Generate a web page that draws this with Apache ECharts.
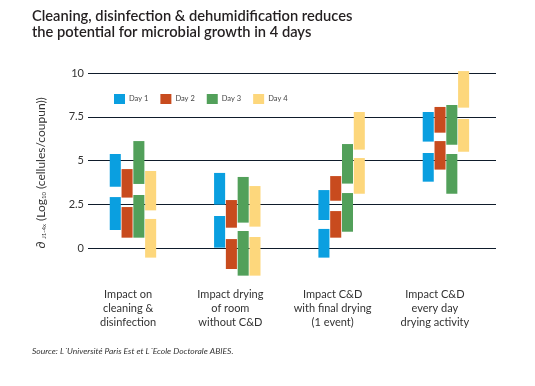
<!DOCTYPE html>
<html><head><meta charset="utf-8">
<script src="https://cdn.jsdelivr.net/npm/echarts@6/dist/echarts.min.js"></script>
<style>html,body{margin:0;padding:0;background:#fff}#c{width:535px;height:386px}</style>
</head><body><div id="c"></div>
<script>
var categories = ["Impact on\ncleaning &\ndisinfection", "Impact drying\nof room\nwithout C&D", "Impact C&D\nwith final drying\n(1 event)", "Impact C&D\nevery day\ndrying activity"];
var days = ["Day 1", "Day 2", "Day 3", "Day 4"];
var dayColors = ["#0a9fe0", "#c84b1e", "#52a05a", "#fdd77c"];
var yTicks = [0, 2.5, 5, 7.5, 10];
// each entry: [lowerBottom, lowerTop, upperBottom, upperTop] per category
var day1 = [[1.03, 2.91, 3.50, 5.37], [0.02, 1.83, 2.48, 4.29], [-0.55, 1.09, 1.60, 3.31], [3.79, 5.43, 6.08, 7.77]];
var day2 = [[0.59, 2.34, 2.88, 4.51], [-1.20, 0.51, 1.16, 2.74], [0.59, 2.11, 2.70, 4.11], [4.48, 6.11, 6.59, 8.06]];
var day3 = [[0.59, 3.03, 3.66, 6.11], [-1.58, 0.97, 1.45, 4.06], [0.93, 3.14, 3.68, 5.94], [3.10, 5.37, 5.90, 8.17]];
var day4 = [[-0.55, 1.66, 2.15, 4.40], [-1.58, 0.63, 1.22, 3.54], [3.10, 5.14, 5.62, 7.77], [5.50, 7.37, 8.02, 10.11]];
var allDays = [day1, day2, day3, day4];

var chart = echarts.init(document.getElementById('c'), null, {renderer: 'canvas'});

function makeSeries(dIdx) {
  var data = allDays[dIdx].map(function (v, i) { return [i, v[0], v[1], v[2], v[3]]; });
  return {
    type: 'custom',
    name: days[dIdx],
    xAxisIndex: 0, yAxisIndex: 0,
    clip: false,
    itemStyle: {color: dayColors[dIdx]},
    encode: {x: 0, y: [1, 2, 3, 4]},
    data: data,
    renderItem: function (params, api) {
      var unit = api.size([1, 0])[0];
      var step = unit * 0.113;
      var w = unit * 0.106;
      var cx = api.coord([api.value(0), 0])[0] + (dIdx - 1.5) * step;
      var a = api.coord([api.value(0), api.value(1)])[1];
      var b = api.coord([api.value(0), api.value(2)])[1];
      var c = api.coord([api.value(0), api.value(3)])[1];
      var d = api.coord([api.value(0), api.value(4)])[1];
      var col = dayColors[dIdx];
      return {
        type: 'group',
        children: [
          {type: 'rect', shape: {x: cx - w / 2, y: b, width: w, height: a - b}, style: {fill: col}},
          {type: 'rect', shape: {x: cx - w / 2, y: d, width: w, height: c - d}, style: {fill: col}}
        ]
      };
    }
  };
}

var series = [0, 1, 2, 3].map(makeSeries);

chart.setOption({
  animation: false,
  backgroundColor: '#fff',
  title: {
    text: 'Cleaning, disinfection & dehumidification reduces\nthe potential for microbial growth in 4 days',
    left: 27, top: 3,
    textStyle: {fontFamily: 'Lato', fontSize: 14.7, fontWeight: 600, color: '#231f20', lineHeight: 16}
  },
  legend: {
    data: days.map(function (d, i) { return {name: d, icon: 'rect', itemStyle: {color: dayColors[i]}}; }),
    left: 109, top: 89,
    itemWidth: 11, itemHeight: 10, itemGap: 12,
    textStyle: {fontFamily: 'Lato', fontSize: 7.5, color: '#444', padding: [0, 0, 0, -1]}
  },
  grid: [
    {left: 88, right: 39, top: 73, height: 175},
    {left: 77, width: 409, top: 73, height: 175}
  ],
  xAxis: [
    {type: 'value', gridIndex: 0, min: -0.431, max: 3.48, show: false},
    {type: 'category', gridIndex: 1, data: categories, axisLine: {show: false}, axisTick: {show: false},
     axisLabel: {margin: 39, fontFamily: 'Lato', fontSize: 11, color: '#333', lineHeight: 14, interval: 0}}
  ],
  yAxis: [
    {type: 'value', gridIndex: 0, min: 0, max: 10, interval: 2.5,
     axisLine: {show: false}, axisTick: {show: false},
     axisLabel: {margin: 4, fontFamily: 'Lato', fontSize: 11, color: '#333', formatter: function (v) { return String(v); }},
     splitLine: {lineStyle: {color: '#0f1c2b', width: 1}}},
    {type: 'value', gridIndex: 1, show: false, min: 0, max: 10}
  ],
  graphic: [
    {type: 'text', x: 41, y: 173, rotation: Math.PI / 2,
     style: {text: '\u2202 {s|J1-4x} (Log{s|10} (cellules/coupun))', fontFamily: 'Lato', fontSize: 12, fill: '#333',
       align: 'center', verticalAlign: 'middle',
       rich: {s: {fontSize: 6, fontFamily: 'Lato', fill: '#333', verticalAlign: 'bottom', padding: [5, 0, 0, 0]}}}},
    {type: 'text', left: 32, top: 347,
     style: {text: 'Source: L\u00b4Universit\u00e9 Paris Est et L\u00b4Ecole Doctorale ABIES.', fontFamily: 'Lato', fontStyle: 'italic', fontSize: 8.5, fill: '#333'}}
  ],
  series: series
});
</script>
</body></html>
